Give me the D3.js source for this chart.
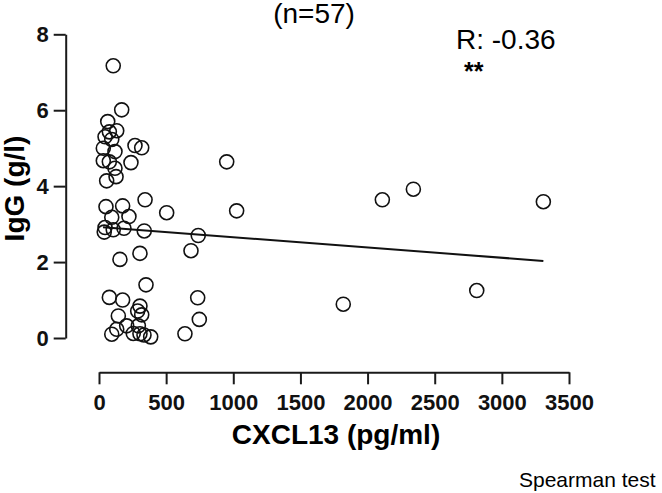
<!DOCTYPE html>
<html>
<head>
<meta charset="utf-8">
<script src="https://cdn.jsdelivr.net/npm/d3@7"></script>
<style>
  body { margin: 0; background: #fff; }
  svg { display: block; font-family: "Liberation Sans", Arial, sans-serif; }
  .axis path, .axis line { stroke: #1a1a1a; stroke-width: 2; }
  .axis text { font-size: 22px; font-weight: bold; fill: #111; }
</style>
</head>
<body>
<div id="viz"></div>
<script>
// CXCL13 (pg/ml) vs IgG (g/l), one entry per patient
const cxcl13 = [
  106, 169, 65, 132, 77, 45, 95, 268, 318, 32,
  119, 32, 77, 238, 951, 119, 127, 57, 52, 176,
  343, 504, 1025, 95, 223, 45, 39, 106, 186, 337,
  739, 685, 156, 305, 350, 77, 176, 735, 305, 288,
  318, 144, 747, 206, 132, 293, 95, 255, 305, 335,
  385, 640, 2110, 2341, 3309, 1819, 2813
];
const igg = [
  7.17, 6.01, 5.70, 5.46, 5.43, 5.30, 5.23, 5.07, 5.01, 5.00,
  4.91, 4.67, 4.64, 4.62, 4.64, 4.47, 4.25, 4.14, 3.46, 3.48,
  3.64, 3.30, 3.35, 3.18, 3.20, 2.91, 2.79, 2.85, 2.89, 2.82,
  2.70, 2.30, 2.07, 2.23, 1.40, 1.07, 1.00, 1.06, 0.84, 0.71,
  0.61, 0.58, 0.49, 0.32, 0.23, 0.32, 0.10, 0.12, 0.11, 0.08,
  0.03, 0.11, 3.64, 3.92, 3.59, 0.89, 1.25
];

// fitted line at its two ends
const fitX = [30, 3309];
const fitY = [2.92, 2.03];

const xTicks = [0, 500, 1000, 1500, 2000, 2500, 3000, 3500];
const yTicks = [0, 2, 4, 6, 8];

const width = 662;
const height = 493;

const svg = d3.select("#viz").append("svg")
    .attr("width", width)
    .attr("height", height);

const xScale = d3.scaleLinear()
    .domain([0, 3500])
    .range([99, 569]);

const yScale = d3.scaleLinear()
    .domain([0, 8])
    .range([338, 34.3]);

// offset axes, prism style
const xAxis = svg.append("g")
    .attr("class", "axis axis--x")
    .attr("transform", "translate(0,372.3)")
    .call(d3.axisBottom(xScale).tickValues(xTicks).tickFormat(d3.format("d"))
        .tickSize(12).tickPadding(10).tickSizeOuter(0));

const yAxis = svg.append("g")
    .attr("class", "axis axis--y")
    .attr("transform", "translate(65.7,0)")
    .call(d3.axisLeft(yScale).tickValues(yTicks).tickFormat(d3.format("d"))
        .tickSize(12).tickPadding(5).tickSizeOuter(0));

svg.append("text")
    .attr("x", 336)
    .attr("y", 444)
    .attr("text-anchor", "middle")
    .style("font-size", "28px")
    .style("font-weight", "bold")
    .text("CXCL13 (pg/ml)");

svg.append("text")
    .attr("transform", "translate(24,188.5) rotate(-90)")
    .attr("text-anchor", "middle")
    .style("font-size", "28px")
    .style("font-weight", "bold")
    .text("IgG (g/l)");

svg.append("text")
    .attr("x", 314)
    .attr("y", 23)
    .attr("text-anchor", "middle")
    .style("font-size", "28px")
    .text("(n=57)");

svg.append("text")
    .attr("x", 456)
    .attr("y", 49)
    .style("font-size", "28px")
    .text("R: -0.36");

svg.append("text")
    .attr("x", 464)
    .attr("y", 80)
    .style("font-size", "25px")
    .style("font-weight", "bold")
    .text("**");

svg.append("text")
    .attr("x", 519)
    .attr("y", 487)
    .style("font-size", "21px")
    .text("Spearman test");

svg.append("line")
    .attr("class", "fit-line")
    .attr("x1", xScale(fitX[0]))
    .attr("y1", yScale(fitY[0]))
    .attr("x2", xScale(fitX[1]))
    .attr("y2", yScale(fitY[1]))
    .attr("stroke", "#111")
    .attr("stroke-width", 2);

svg.selectAll(".point")
    .data(d3.range(cxcl13.length))
    .join("circle")
        .attr("class", "point")
        .attr("cx", i => xScale(cxcl13[i]))
        .attr("cy", i => yScale(igg[i]))
        .attr("r", 7)
        .attr("fill", "none")
        .attr("stroke", "#111")
        .attr("stroke-width", 1.6);
</script>
</body>
</html>
